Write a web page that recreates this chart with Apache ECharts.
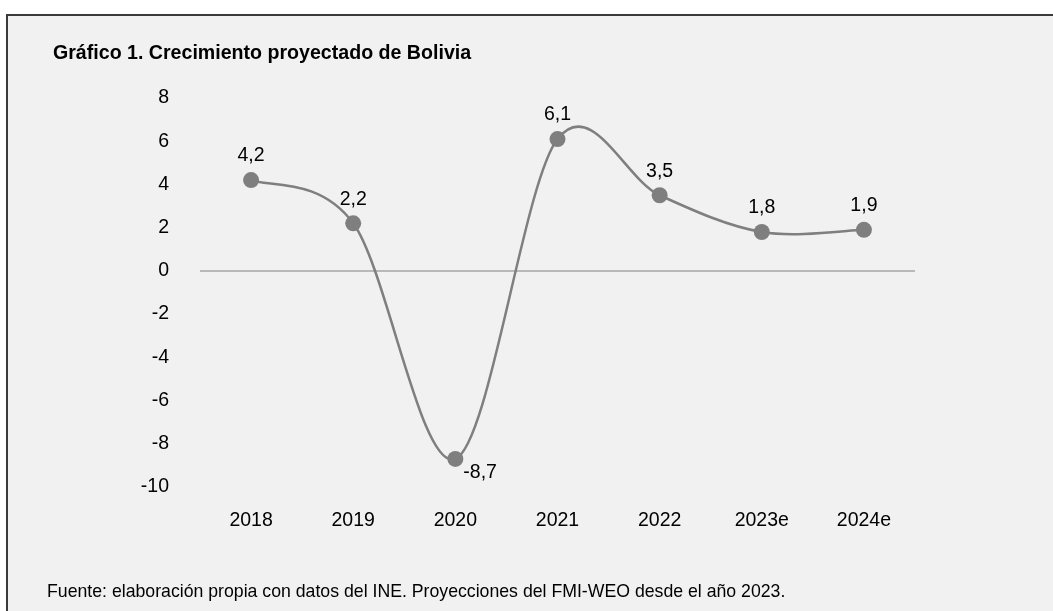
<!DOCTYPE html>
<html><head><meta charset="utf-8">
<script src="https://cdn.jsdelivr.net/npm/echarts@6/dist/echarts.min.js"></script>
<style>html,body{margin:0;padding:0;background:#fff}#c{width:1053px;height:611px}</style>
</head><body><div id="c"></div>
<script>
const categories = ['2018','2019','2020','2021','2022','2023e','2024e'];
const growth = [4.2, 2.2, -8.7, 6.1, 3.5, 1.8, 1.9];
const yTicks = [-10, 8, 2];
const titleText = 'Gráfico 1. Crecimiento proyectado de Bolivia';
const sourceText = 'Fuente: elaboración propia con datos del INE. Proyecciones del FMI-WEO desde el año 2023.';

const FONT = '"Liberation Sans", Arial, sans-serif';
const GRAY = '#7f7f7f';
const chart = echarts.init(document.getElementById('c'), null, {renderer:'canvas'});
const fmt = v => String(v).replace('.', ',');
const n = growth.length;

// Excel-like smoothed segment (Catmull-Rom style) computed from the axis coordinates
function renderSegment(params, api) {
  const i = params.dataIndex;
  if (i >= n - 1) return null;
  const k = j => Math.max(0, Math.min(n - 1, j));
  const c = j => api.coord([k(j), growth[k(j)]]);
  const p0 = c(i - 1), p1 = c(i), p2 = c(i + 1), p3 = c(i + 2);
  return {
    type: 'bezierCurve',
    shape: {
      x1: p1[0], y1: p1[1], x2: p2[0], y2: p2[1],
      cpx1: p1[0] + (p2[0] - p0[0]) / 6, cpy1: p1[1] + (p2[1] - p0[1]) / 6,
      cpx2: p2[0] - (p3[0] - p1[0]) / 6, cpy2: p2[1] - (p3[1] - p1[1]) / 6
    },
    style: { stroke: GRAY, lineWidth: 2.5, fill: null }
  };
}

chart.setOption({
  animation: false,
  backgroundColor: '#ffffff',
  graphic: [
    {type:'rect', z:-10, shape:{x:7, y:15, width:1100, height:700},
     style:{fill:'#f1f1f1', stroke:'#3a3a3a', lineWidth:2}},
    {type:'text', left:53, top:44, style:{text:titleText, font:'bold 19.6px ' + FONT, fill:'#000'}},
    {type:'text', left:47, top:583, style:{text:sourceText, font:'17.7px ' + FONT, fill:'#000'}}
  ],
  grid: {left:200, right:138, top:98, bottom:124, containLabel:false},
  xAxis: {
    type:'category', data: categories, boundaryGap:true,
    axisLine:{show:false}, axisTick:{show:false}, splitLine:{show:false},
    axisLabel:{color:'#000', fontSize:19.5, fontFamily:FONT, margin:24, interval:0}
  },
  yAxis: {
    type:'value', min:yTicks[0], max:yTicks[1], interval:yTicks[2],
    splitLine:{show:false}, axisLine:{show:false}, axisTick:{show:false},
    axisLabel:{color:'#000', fontSize:19.5, fontFamily:FONT, margin:31}
  },
  series: [
    {
      type:'custom', renderItem: renderSegment, clip:false, z:2,
      data: growth.map((v, i) => [i, v]), encode:{x:0, y:1}, silent:true
    },
    {
      type:'scatter', z:3, symbol:'circle', symbolSize:16,
      itemStyle:{color:GRAY, opacity:1},
      data: growth.map(v => v < 0
        ? {value:v, label:{position:'right', distance:0, offset:[0,14]}}
        : v),
      label:{show:true, position:'top', distance:6, color:'#000', fontSize:19.5, fontFamily:FONT,
        formatter: p => fmt(p.value)},
      markLine:{
        silent:true, symbol:['none','none'], z:1,
        label:{show:false},
        lineStyle:{color:'#a6a6a6', width:1.5, type:'solid'},
        data:[{yAxis:0}]
      }
    }
  ]
});
</script></body></html>
